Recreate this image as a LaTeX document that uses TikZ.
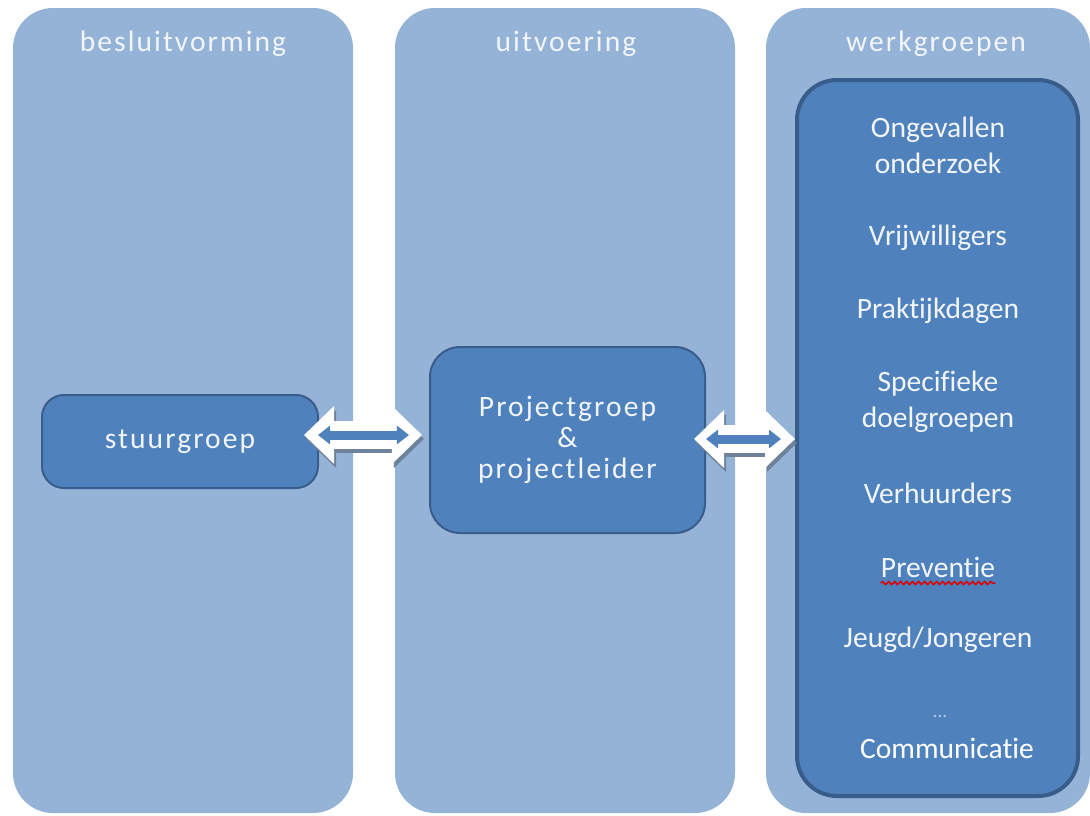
\documentclass[tikz,border=0pt]{standalone}
\usepackage{fontspec}
\setmainfont[Ligatures=NoCommon]{Carlito}
\newfontfamily\widefont[LetterSpace=7, Ligatures=NoCommon]{Carlito}
\usepackage{tikz}
\usetikzlibrary{arrows.meta}
\usetikzlibrary{positioning}
\usetikzlibrary{decorations.pathmorphing}
\newlength{\orgunit}
\setlength{\orgunit}{0.025cm}
\definecolor{colfill}{HTML}{95B3D7}
\definecolor{boxfill}{HTML}{4F81BD}
\definecolor{boxline}{HTML}{385D8A}
\definecolor{headtext}{HTML}{F2F5FA}
\definecolor{shadowgrey}{HTML}{6F829C}
\tikzstyle{column}=[rectangle, rounded corners=40\orgunit, fill=colfill, minimum width=340\orgunit, minimum height=805\orgunit, inner sep=0pt]
\tikzstyle{header}=[text=headtext, inner sep=0pt, font=\widefont\fontsize{21}{24}\selectfont]
\tikzstyle{unit}=[rectangle, draw=boxline, fill=boxfill, line width=2\orgunit, text=headtext, align=center, font=\widefont\fontsize{21}{22}\selectfont]
\tikzstyle{item}=[text=headtext, align=center, inner sep=0pt, font=\fontsize{21}{25.5}\selectfont]
\tikzstyle{blockarrow}=[draw=white, line width=28\orgunit, arrows={{Triangle[width=1.4cm,length=0.75cm]}-{Triangle[width=1.4cm,length=0.75cm]}}]
\tikzstyle{blockshadow}=[blockarrow, draw=shadowgrey, transform canvas={shift={(2\orgunit,-4\orgunit)}}]
\tikzstyle{innerarrow}=[draw=boxfill, line width=9\orgunit, arrows={{Triangle[width=0.45cm,length=0.3cm]}-{Triangle[width=0.45cm,length=0.3cm]}}]

\begin{document}
\begin{tikzpicture}[x=\orgunit, y=-\orgunit]
\useasboundingbox (0,0) rectangle (1090,815);
% the three columns
\node [column] (besluit) at (183,410.5) {};
\node [column] (uitvoer) at (565,410.5) {};
\node [column, minimum width=324\orgunit] (werk) at (928,410.5) {};
\node [header] (h1) at (183,44) {besluitvorming};
\node [header] (h2) at (566,44) {uitvoering};
\node [header] (h3) at (936,44) {werkgroepen};
% boxes
\node [unit, minimum width=276\orgunit, minimum height=93\orgunit, rounded corners=22\orgunit] (stuur) at (180,441.5) {stuurgroep};
\node [unit, minimum width=275\orgunit, minimum height=186\orgunit, rounded corners=30\orgunit] (proj) at (567.5,440) {Projectgroep\\\&\\projectleider};
\node [unit, line width=4\orgunit, minimum width=281\orgunit, minimum height=716\orgunit, rounded corners=40\orgunit] (wg) at (937.5,438) {};
% arrows
\draw [blockshadow, shorten <=-0.375cm, shorten >=0.175cm] ([shift={(0,-6.5)}]stuur.east) -- ([shift={(0,-5)}]proj.west);
\draw [blockarrow, shorten <=-0.375cm, shorten >=0.175cm] ([shift={(0,-6.5)}]stuur.east) -- ([shift={(0,-5)}]proj.west);
\draw [innerarrow, shorten <=-0.025cm, shorten >=0.5cm] ([shift={(0,-6.5)}]stuur.east) -- ([shift={(0,-5)}]proj.west);
\draw [blockshadow, shorten <=-0.3cm] ([shift={(0,-1)}]proj.east) -- ([shift={(0,1)}]wg.west);
\draw [blockarrow, shorten <=-0.3cm] ([shift={(0,-1)}]proj.east) -- ([shift={(0,1)}]wg.west);
\draw [innerarrow, shorten >=0.35cm] ([shift={(0,-1)}]proj.east) -- ([shift={(0,1)}]wg.west);
% werkgroepen list
\foreach \nm/\yy/\txt in {w1/145/{Ongevallen\\onderzoek}, w2/238/Vrijwilligers, w3/311/Praktijkdagen, w4/402/{Specifieke\\doelgroepen}, w5/493/Verhuurders, w6/567/Preventie, w7/640/{Jeugd/Jongeren}}
  \node [item] (\nm) at (938,\yy) {\txt};
\node [item, text=headtext!60!boxfill, font=\fontsize{14}{14}\selectfont] (w8) at (940,716) {...};
\node [item, text=white, font=\fontsize{21}{24}\selectfont] (w9) at (947,748) {Communicatie};
\draw [red!85!black, line width=1.5\orgunit, decorate, decoration={snake, amplitude=1.5\orgunit, segment length=6\orgunit}] ([shift={(0,6)}]w6.base west) -- ([shift={(0,6)}]w6.base east);
\end{tikzpicture}
\end{document}
